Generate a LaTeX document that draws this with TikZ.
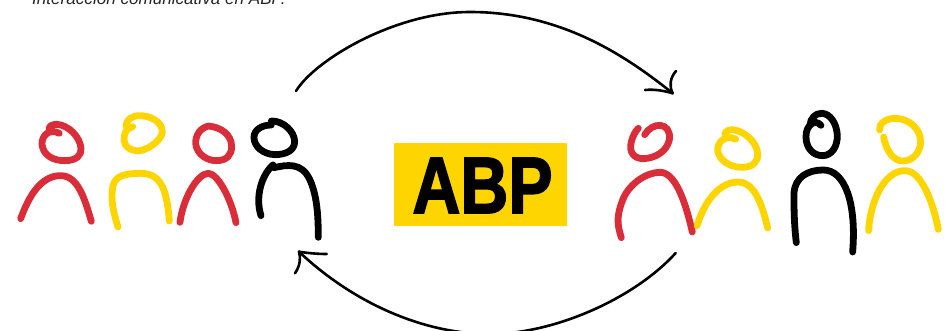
\documentclass[tikz,border=0pt]{standalone}
\usepackage{fontspec}
\setmainfont{Liberation Sans}
\newfontfamily\abpfont[FakeBold=2.2]{Liberation Sans Bold}
\definecolor{abpred}{HTML}{D92D3A}
\definecolor{abpyellow}{HTML}{FFD500}
\tikzset{
  pen/.style={line width=#1,line cap=round,line join=round},
  redpen/.style={pen=6.8pt,draw=abpred},
  yellowpen/.style={pen=6.8pt,draw=abpyellow},
  blackpen/.style={pen=6.8pt,draw=black},
  arcpen/.style={pen=2.6pt,draw=black}
}
\begin{document}
\begin{tikzpicture}[x=1pt,y=-1pt]
\useasboundingbox (0,0) rectangle (951,331);
\clip (0,0) rectangle (951,331);
\node[anchor=base west,inner sep=0pt,font=\fontsize{17.1}{20}\selectfont\itshape,text=black!85] (caption) at (32,5) {Interacción comunicativa en ABP.};
\node[fill=abpyellow,minimum width=173pt,minimum height=83pt,inner sep=0pt] (box) at (480.5,184.5) {};
\node[anchor=center,inner sep=0pt,xscale=.83,font=\fontsize{80}{80}\abpfont] (abp) at (482.5,185.5) {ABP};
% arcs
\draw[arcpen] (296,91) .. controls (315,60) and (395,12) .. (470,12) .. controls (560,12) and (625,55) .. (672.7,93.3);
\draw[arcpen] (645,90) .. controls (655,89) and (665,91) .. (672.7,93.3);
\draw[arcpen] (676,71) .. controls (670,78) and (669,86) .. (672.7,93.3);
\draw[arcpen] (675.7,253) .. controls (635,298) and (555,334) .. (490,334) .. controls (420,334) and (350,300) .. (299,251.7);
\draw[arcpen] (326.7,254) .. controls (317,254) and (307,253) .. (299,251.7);
\draw[arcpen] (295,273.3) .. controls (300,266) and (301,258) .. (299,251.7);
% left group, in units of a 3x crop at (0,0)
\begin{scope}[x=.3333pt,y=-.3333pt]
\draw[redpen] (178,400) .. controls (150,385) and (125,405) .. (126,432) .. controls (128,465) and (160,483) .. (195,482) .. controls (230,482) and (245,465) .. (243,445) .. controls (240,410) and (205,375) .. (170,373) .. controls (155,373) and (145,380) .. (148,388);
\draw[redpen] (62,656) .. controls (95,565) and (135,527) .. (182,527) .. controls (235,527) and (255,600) .. (274,664);
\draw[yellowpen] (398,380) .. controls (378,385) and (372,400) .. (372,420) .. controls (372,440) and (395,455) .. (420,452) .. controls (455,445) and (487,415) .. (487,395) .. controls (487,365) and (450,347) .. (420,347) .. controls (395,347) and (378,360) .. (378,378);
\draw[yellowpen] (354,681) .. controls (335,620) and (335,600) .. (337,570) .. controls (340,530) and (365,521) .. (420,520) .. controls (480,520) and (500,560) .. (508,663);
\draw[redpen] (625,378) .. controls (600,385) and (587,405) .. (587,430) .. controls (590,465) and (625,483) .. (650,482) .. controls (680,482) and (695,465) .. (695,440) .. controls (695,405) and (665,382) .. (625,378);
\draw[redpen] (540,667) .. controls (548,600) and (590,522) .. (625,520) .. controls (655,522) and (695,600) .. (708,668);
\draw[blackpen] (814,375) .. controls (785,375) and (762,390) .. (762,412) .. controls (762,440) and (790,463) .. (825,464) .. controls (860,464) and (884,450) .. (884,425) .. controls (884,395) and (850,362) .. (814,363);
\draw[blackpen] (783,647) .. controls (765,590) and (785,525) .. (819,495);
\draw[blackpen] (819,495) -- (822,503) .. controls (860,495) and (905,485) .. (930,540) .. controls (950,585) and (955,640) .. (955,712);
\end{scope}
% right group, in units of a 3x crop at (600,60)
\begin{scope}[shift={(600,60)},x=.3333pt,y=-.3333pt]
\draw[redpen] (134,224) .. controls (145,205) and (165,195) .. (180,196) .. controls (200,197) and (212,215) .. (208,240) .. controls (200,275) and (165,295) .. (130,296) .. controls (100,296) and (88,275) .. (93,250) .. controls (97,230) and (105,215) .. (115,205);
\draw[redpen] (64,533) .. controls (50,490) and (50,465) .. (70,415) .. controls (90,370) and (140,337) .. (180,337) .. controls (225,337) and (255,420) .. (277,516);
\draw[yellowpen] (407,238) .. controls (380,222) and (352,245) .. (353,270) .. controls (355,300) and (390,322) .. (425,322) .. controls (460,322) and (475,305) .. (473,280) .. controls (470,245) and (430,210) .. (395,209) .. controls (380,209) and (372,220) .. (375,228);
\draw[yellowpen] (291,497) .. controls (315,420) and (360,366) .. (415,366) .. controls (460,366) and (485,425) .. (503,504);
\draw[blackpen] (663,196) .. controls (645,175) and (618,195) .. (618,230) .. controls (618,265) and (640,287) .. (668,287) .. controls (695,287) and (713,260) .. (712,225) .. controls (710,190) and (690,160) .. (665,160) .. controls (645,160) and (632,175) .. (630,195);
\draw[blackpen] (589,548) .. controls (582,490) and (582,440) .. (582,400) .. controls (585,350) and (625,330) .. (670,330) .. controls (735,330) and (770,430) .. (758,576);
\draw[yellowpen] (851,231) .. controls (860,280) and (885,303) .. (908,303) .. controls (940,303) and (962,275) .. (962,245) .. controls (962,205) and (925,175) .. (885,175) .. controls (860,175) and (835,190) .. (839,210);
\draw[yellowpen] (806,512) .. controls (810,430) and (850,332) .. (915,332) .. controls (965,332) and (1000,430) .. (1015,508);
\end{scope}
\end{tikzpicture}
\end{document}
